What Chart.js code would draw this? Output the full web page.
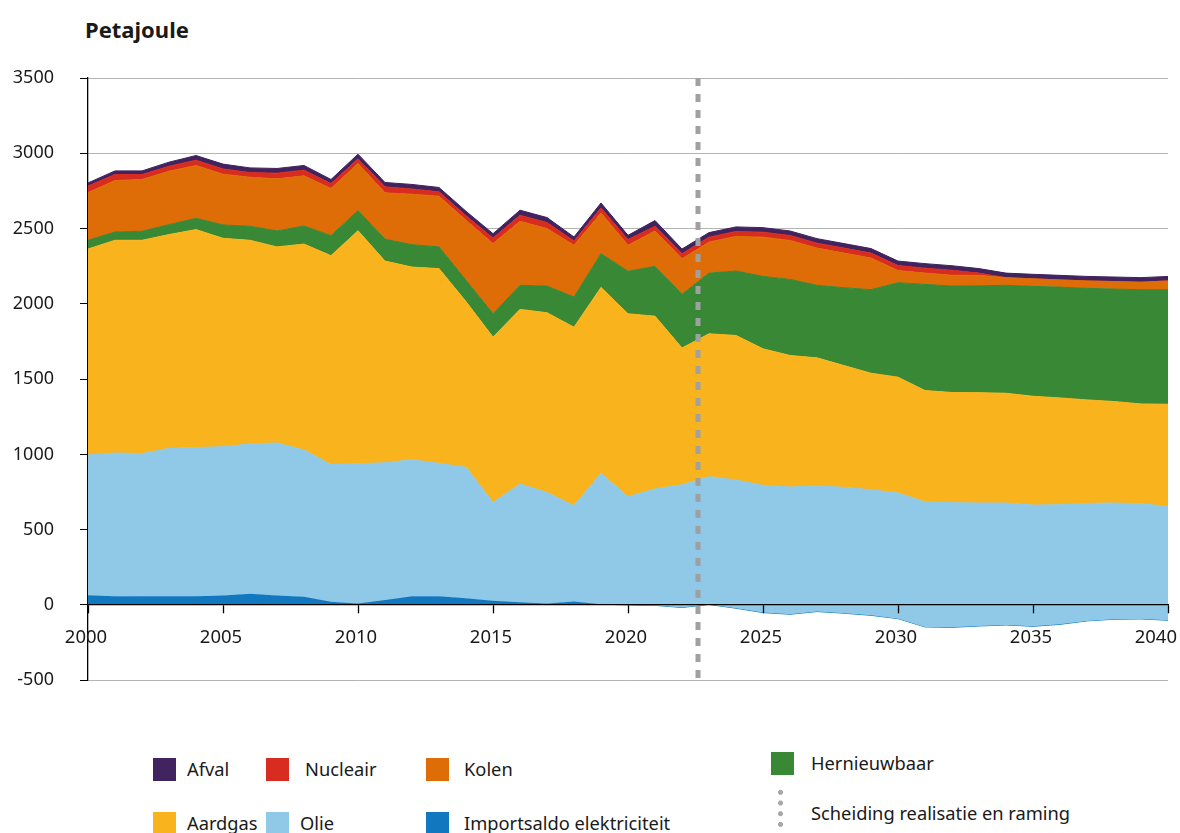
<!DOCTYPE html>
<html lang="nl">
<head>
<meta charset="utf-8">
<script src="https://cdn.jsdelivr.net/npm/chart.js@4.4.0/dist/chart.umd.min.js"></script>
<style>
  body { margin: 0; background: #fff; font-family: "Noto Sans", sans-serif; color: #1a1a1a; }
  #wrap { position: relative; width: 1180px; height: 833px; overflow: hidden; }
  #chart { position: absolute; left: 0; top: 0; }
  .title { position: absolute; left: 85px; top: 14px; font-weight: bold; font-size: 22px; }
  .lg { position: absolute; font-size: 18.3px; line-height: 23px; white-space: nowrap; }
  .sw { position: absolute; width: 23px; height: 23px; }
  .dots { position: absolute; width: 5px; height: 40px;
          background: radial-gradient(circle, #a8a8a8 2.2px, transparent 2.6px) 0 0 / 5px 10.7px repeat-y; }
</style>
</head>
<body>
<div id="wrap">
  <div class="title">Petajoule</div>
  <canvas id="chart" width="1180" height="717"></canvas>
  <div id="legend"></div>
</div>
<script>
const years = [];
for (let y = 2000; y <= 2040; y++) years.push(y);

// PJ per jaar, 2000-2040
const importsaldo = [65, 58, 57, 57, 57, 63, 74, 63, 55, 21,
  10, 32, 58, 58, 45, 28, 17, 10, 23, 5,
  0, -3, -17, 3, -22, -51, -62, -44, -55, -69,
  -91, -146, -149, -140, -133, -142, -129, -106, -95, -93, -102];
const olie = [931, 951, 948, 983, 988, 988, 995, 1013, 974, 911,
  928, 912, 907, 882, 869, 653, 786, 737, 636, 869,
  719, 773, 815, 849, 852, 845, 845, 834, 836, 834,
  834, 831, 828, 817, 810, 805, 794, 780, 772, 765, 756];
const aardgas = [1368, 1413, 1417, 1420, 1448, 1384, 1353, 1302, 1368, 1388,
  1548, 1340, 1279, 1294, 1101, 1098, 1160, 1194, 1186, 1235,
  1215, 1148, 909, 949, 960, 907, 874, 851, 809, 774,
  770, 739, 732, 733, 729, 723, 710, 688, 674, 663, 679];
const hernieuwbaar = [58, 55, 60, 66, 75, 89, 93, 106, 120, 133,
  134, 145, 149, 144, 141, 155, 160, 177, 200, 224,
  282, 331, 356, 403, 428, 481, 505, 482, 517, 555,
  627, 705, 707, 710, 717, 730, 736, 741, 747, 759, 761];
const kolen = [317, 342, 344, 355, 351, 337, 326, 346, 333, 313,
  312, 308, 335, 337, 399, 466, 425, 382, 344, 271,
  173, 235, 237, 206, 230, 261, 259, 247, 230, 210,
  81, 75, 72, 69, 51, 50, 48, 49, 50, 50, 58];
const nucleair = [44, 40, 33, 33, 35, 35, 31, 38, 38, 33,
  31, 40, 35, 29, 30, 37, 40, 40, 28, 33,
  38, 31, 33, 33, 33, 33, 33, 33, 33, 33,
  33, 33, 33, 15, 0, 0, 0, 0, 0, 0, 0];
const afval = [20, 24, 24, 27, 31, 32, 31, 31, 31, 27,
  31, 29, 30, 29, 30, 29, 34, 33, 27, 33,
  28, 38, 31, 30, 30, 30, 30, 30, 30, 30,
  30, 30, 30, 30, 30, 30, 30, 30, 30, 30, 30];

const splitYear = 2022.6; // scheiding realisatie en raming

const series = [
  { label: 'Importsaldo elektriciteit', data: importsaldo, color: '#1177bf' },
  { label: 'Olie', data: olie, color: '#8fc9e7' },
  { label: 'Aardgas', data: aardgas, color: '#f9b41d' },
  { label: 'Hernieuwbaar', data: hernieuwbaar, color: '#388835' },
  { label: 'Kolen', data: kolen, color: '#df6d07' },
  { label: 'Nucleair', data: nucleair, color: '#d72c1f' },
  { label: 'Afval', data: afval, color: '#40235f' },
];

// stacked as a running total (a negative import pulls the oil band below zero)
let running = years.map(() => 0);
const datasets = series.map((s, i) => {
  running = running.map((v, j) => v + s.data[j]);
  return {
    label: s.label,
    data: years.map((y, j) => ({ x: y, y: running[j] })),
    backgroundColor: s.color,
    borderColor: s.color,
    borderWidth: 1,
    pointRadius: 0,
    tension: 0,
    fill: i === 0 ? 'origin' : '-1',
    order: i === 0 ? 1 : 0,
  };
});

const splitLine = {
  id: 'splitLine',
  afterDatasetsDraw(chart) {
    const { ctx, chartArea, scales: { x } } = chart;
    const px = Math.round(x.getPixelForValue(splitYear));
    ctx.save();
    ctx.strokeStyle = '#a0a0a0';
    ctx.lineWidth = 5;
    ctx.setLineDash([8, 8]);
    ctx.beginPath();
    ctx.moveTo(px, chartArea.top);
    ctx.lineTo(px, chartArea.bottom);
    ctx.stroke();
    ctx.restore();
  }
};

// year labels under the zero line; the last one is pulled inside the canvas
const xLabels = {
  id: 'xLabels',
  afterDraw(chart) {
    const { ctx, scales: { x, y } } = chart;
    const base = y.getPixelForValue(0);
    ctx.save();
    ctx.font = '18.5px "Noto Sans"';
    ctx.fillStyle = '#1a1a1a';
    ctx.textAlign = 'center';
    ctx.textBaseline = 'alphabetic';
    x.ticks.forEach(t => {
      const txt = String(t.value);
      const w = ctx.measureText(txt).width;
      const px = Math.min(x.getPixelForValue(t.value) - 2, chart.width - 3 - w / 2);
      ctx.fillText(txt, px, base + 38);
    });
    ctx.restore();
  }
};

const tickFont = { family: 'Noto Sans', size: 18 };

new Chart(document.getElementById('chart').getContext('2d'), {
  type: 'line',
  data: { datasets },
  options: {
    responsive: false,
    animation: false,
    layout: { padding: { top: 78, right: 12, bottom: 21, left: 0 } },
    plugins: { legend: { display: false }, tooltip: { enabled: false } },
    scales: {
      x: {
        type: 'linear',
        min: 2000,
        max: 2040,
        position: { y: 0 },
        grid: { drawOnChartArea: false, tickLength: 8, tickColor: '#000', tickWidth: 1.3, z: 1 },
        border: { color: '#000', width: 1.3, z: 1 },
        ticks: { stepSize: 5, display: false },
      },
      y: {
        min: -500,
        max: 3500,
        grid: { color: '#b4b4b4', lineWidth: 1, tickLength: 8, tickColor: '#000' },
        border: { color: '#000', width: 1.3 },
        ticks: { stepSize: 500, padding: 26, color: '#1a1a1a', font: tickFont, callback: v => String(v) },
        afterFit: s => { s.width = 88; },
      },
    },
  },
  plugins: [splitLine, xLabels],
});

// legend
const legendItems = [
  { text: 'Afval', color: '#40235f', sx: 153, tx: 187, y: 758 },
  { text: 'Nucleair', color: '#d72c1f', sx: 266, tx: 305, y: 758 },
  { text: 'Kolen', color: '#df6d07', sx: 426, tx: 464, y: 758 },
  { text: 'Hernieuwbaar', color: '#388835', sx: 771, tx: 811, y: 752 },
  { text: 'Aardgas', color: '#f9b41d', sx: 153, tx: 187, y: 812 },
  { text: 'Olie', color: '#8fc9e7', sx: 266, tx: 300, y: 812 },
  { text: 'Importsaldo elektriciteit', color: '#1177bf', sx: 426, tx: 464, y: 812 },
];
const legend = document.getElementById('legend');
legendItems.forEach(it => {
  const sw = document.createElement('div');
  sw.className = 'sw';
  sw.style.left = it.sx + 'px';
  sw.style.top = it.y + 'px';
  sw.style.background = it.color;
  legend.appendChild(sw);
  const t = document.createElement('div');
  t.className = 'lg';
  t.style.left = it.tx + 'px';
  t.style.top = (it.y - 1) + 'px';
  t.textContent = it.text;
  legend.appendChild(t);
});
const dots = document.createElement('div');
dots.className = 'dots';
dots.style.left = '778px';
dots.style.top = '787px';
legend.appendChild(dots);
const sep = document.createElement('div');
sep.className = 'lg';
sep.style.left = '811px';
sep.style.top = '801px';
sep.textContent = 'Scheiding realisatie en raming';
legend.appendChild(sep);
</script>
</body>
</html>
